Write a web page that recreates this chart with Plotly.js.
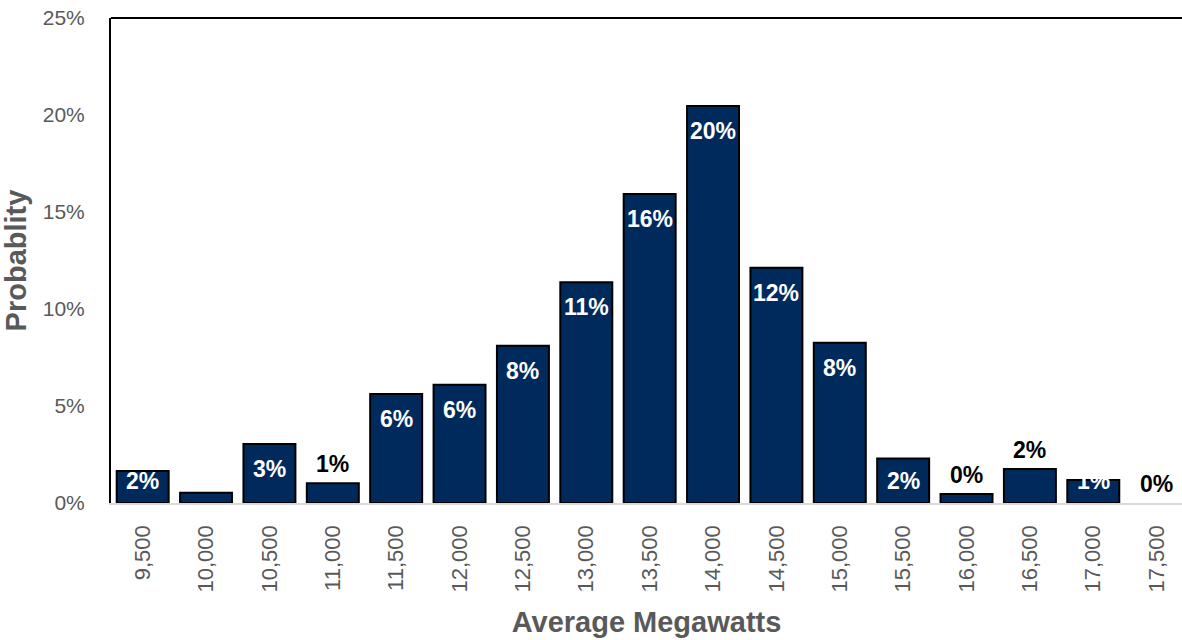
<!DOCTYPE html>
<html>
<head>
<meta charset="utf-8">
<script src="https://cdn.plot.ly/plotly-3.0.1.min.js"></script>
<style>
  html, body { margin: 0; padding: 0; background: #ffffff; overflow: hidden; }
  #chart { width: 1182px; height: 640px; }
</style>
</head>
<body>
<div id="chart"></div>
<script>
// ---- Data ----
const categories = ["9,500", "10,000", "10,500", "11,000", "11,500", "12,000", "12,500", "13,000",
                    "13,500", "14,000", "14,500", "15,000", "15,500", "16,000", "16,500", "17,000", "17,500"];
const probability = [1.65, 0.53, 3.04, 1.02, 5.62, 6.10, 8.11, 11.38,
                     15.93, 20.46, 12.13, 8.26, 2.30, 0.46, 1.75, 1.19, 0];
const valueLabels = ["2%", "", "3%", "1%", "6%", "6%", "8%", "11%",
                     "16%", "20%", "12%", "8%", "2%", "0%", "2%", "1%", "0%"];
// label placement style: true = white label inside bar, false = black label above bar
const labelInside = [true, false, true, false, true, true, true, true,
                     true, true, true, true, true, false, false, true, false];

// ---- Layout constants ----
const W = 1182, H = 640;
const M = { l: 111, r: 0, t: 18, b: 137 };
const yMax = 25;
const plotH = H - M.t - M.b;
const pxPerUnit = plotH / yMax;
const FONT = 'Arial, "Liberation Sans", sans-serif';
const GREY = '#595959';
const NAVY = '#002a5c';

const annotations = categories.map((c, i) => {
  const v = probability[i];
  const txt = valueLabels[i];
  if (!txt) return null;
  const ann = {
    x: c, xref: 'x', yref: 'y', text: txt, showarrow: false,
    xanchor: 'center', yanchor: 'middle',
    font: { family: FONT, size: 23, color: labelInside[i] ? '#ffffff' : '#000000', weight: 'bold' }
  };
  if (labelInside[i]) {
    const topPx = v * pxPerUnit;
    if (topPx - 25 < 22) { ann.y = 0; ann.yshift = 22; }
    else { ann.y = v; ann.yshift = -25; }
  } else {
    ann.y = v; ann.yshift = 19;
  }
  return ann;
}).filter(a => a);

const trace = {
  type: 'bar',
  x: categories,
  y: probability,
  width: 0.82,
  marker: {
    color: NAVY,
    line: { color: '#000000', width: probability.map(v => (v > 0 ? 2 : 0)) }
  },
  hoverinfo: 'skip'
};

const layout = {
  width: W, height: H,
  margin: M,
  paper_bgcolor: '#ffffff',
  plot_bgcolor: '#ffffff',
  showlegend: false,
  font: { family: FONT, color: GREY },
  xaxis: {
    type: 'category',
    range: [-0.5, 16.4],
    showgrid: false,
    zeroline: false,
    showline: true, linecolor: '#d9d9d9', linewidth: 1.5,
    ticks: '',
    tickangle: -90,
    tickfont: { family: FONT, size: 22, color: GREY },
    ticklabelstandoff: 12,
    title: { text: 'Average Megawatts', font: { family: FONT, size: 29, color: GREY, weight: 'bold' }, standoff: 20 },
    fixedrange: true
  },
  yaxis: {
    range: [0, yMax],
    dtick: 5,
    tick0: 0,
    ticksuffix: '%',
    showgrid: false,
    zeroline: false,
    showline: true, linecolor: '#000000', linewidth: 2,
    ticks: '',
    tickfont: { family: FONT, size: 21, color: GREY },
    ticklabelstandoff: 20,
    title: { text: 'Probablity', font: { family: FONT, size: 29, color: GREY, weight: 'bold' }, standoff: 12 },
    fixedrange: true
  },
  shapes: [{
    type: 'line', xref: 'paper', yref: 'paper', x0: 0, x1: 1, y0: 1, y1: 1,
    line: { color: '#000000', width: 2 }
  }],
  annotations: annotations
};

Plotly.newPlot('chart', [trace], layout, { staticPlot: true, displayModeBar: false });
</script>
</body>
</html>
